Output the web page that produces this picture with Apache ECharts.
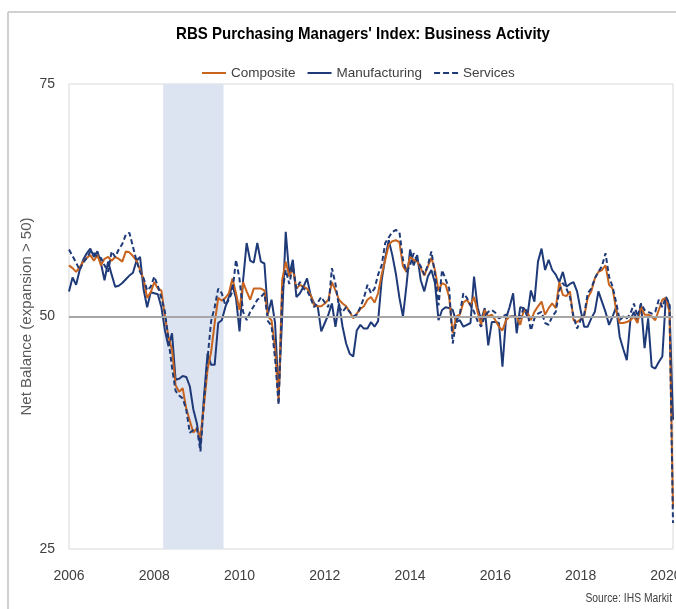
<!DOCTYPE html>
<html><head><meta charset="utf-8">
<script src="https://cdn.jsdelivr.net/npm/echarts@6/dist/echarts.min.js"></script>
<style>html,body{margin:0;padding:0;background:#fff}#c{width:676px;height:609px}</style>
</head><body><div id="c"></div>
<script>
// ---- data (monthly, Jan 2006 .. Mar 2020) ----
const startYear = 2006;
const xTickYears = [2006, 2008, 2010, 2012, 2014, 2016, 2018, 2020];
const yTicks = [25, 50, 75];
const recessionStart = '2008-04';
const recessionEnd = '2009-08';
const seriesNames = ['Composite', 'Manufacturing', 'Services'];

const composite = [
  55.5, 55.2, 54.8, 55.3, 55.9, 56.3, 56.6, 56.0, 56.6, 55.5, 56.2, 56.4,
  56.0, 56.4, 56.2, 55.9, 57.0, 56.9, 56.5, 56.0, 55.0, 54.0, 52.0, 52.6,
  53.7, 53.0, 52.8, 50.0, 47.8, 46.4, 42.6, 41.9, 42.3, 40.1, 38.8, 37.5,
  38.0, 37.0, 40.5, 44.3, 46.2, 49.3, 52.0, 51.7, 52.0, 52.5, 54.1, 52.5,
  50.7, 53.7, 52.7, 51.8, 53.0, 53.0, 53.0, 52.8, 50.0, 49.6, 46.6, 40.8,
  53.9, 55.9, 54.3, 55.2, 53.0, 53.4, 53.2, 53.0, 52.3, 51.2, 51.1, 51.1,
  51.4, 51.8, 53.7, 52.8, 51.8, 51.4, 51.1, 50.5, 49.8, 50.3, 50.8, 51.1,
  51.8, 52.1, 51.5, 52.5, 54.5, 56.1, 57.7, 58.1, 58.2, 58.0, 55.4, 54.8,
  56.4, 56.1, 55.9, 55.2, 54.4, 55.4, 56.3, 55.0, 52.8, 53.6, 53.4, 52.1,
  48.2, 50.0, 50.2, 51.5, 51.8, 51.2, 52.1, 50.5, 49.1, 50.7, 50.0, 50.2,
  49.6, 48.9, 48.5, 49.6, 50.0, 50.0, 50.0, 49.1, 50.7, 50.5, 49.6, 50.5,
  51.1, 51.6, 50.2, 50.9, 51.4, 50.9, 53.7, 52.3, 52.2, 52.7, 49.6, 49.4,
  49.7, 50.0, 52.0, 52.7, 54.1, 54.8, 55.0, 55.5, 53.4, 53.0, 50.7, 49.3,
  49.3, 49.4, 49.6, 50.0, 49.3, 51.1, 50.2, 50.2, 50.0, 49.6, 50.7, 51.8,
  52.0, 50.5, 29.5
];
const manufacturing = [
  52.7, 54.2, 53.4, 55.0, 56.1, 56.8, 57.3, 56.4, 57.0, 55.7, 53.9, 55.9,
  54.5, 53.2, 53.3, 53.6, 54.0, 54.4, 54.7, 56.0, 56.4, 52.9, 51.0, 52.6,
  52.5, 52.4, 51.0, 48.5, 46.8, 48.2, 43.2, 43.3, 43.6, 43.5, 42.5, 40.0,
  38.5, 36.0, 41.4, 46.0, 44.8, 44.8, 49.3, 49.6, 51.0, 52.1, 53.4, 52.0,
  48.4, 53.9, 57.9, 56.0, 55.8, 57.9, 55.9, 55.7, 50.3, 51.8, 49.3, 41.5,
  50.0, 59.1, 54.5, 56.1, 52.1, 52.5, 53.2, 54.1, 52.3, 51.4, 51.1, 48.4,
  49.3, 50.2, 51.4, 48.9, 51.4, 48.9, 47.1, 46.0, 45.7, 48.5, 49.1, 48.7,
  48.7, 49.4, 48.9, 49.5, 53.9, 56.3, 58.2, 56.6, 54.6, 52.0, 50.0, 53.4,
  57.2, 55.5, 56.6, 53.9, 52.7, 54.3, 55.0, 53.6, 49.6, 50.7, 51.0, 50.9,
  50.7, 49.4, 49.6, 48.9, 49.1, 49.3, 54.3, 51.0, 49.6, 50.9, 46.9, 49.4,
  49.4, 49.3, 44.6, 49.8, 51.0, 52.5, 48.2, 51.0, 50.9, 50.0, 52.8, 51.6,
  55.9, 57.3, 55.0, 56.1, 55.0, 54.5, 53.7, 54.8, 53.2, 53.5, 53.7, 52.7,
  50.7, 48.9, 48.9, 49.8, 50.5, 52.7, 51.6, 50.5, 49.1, 50.0, 51.0, 47.8,
  46.5, 45.3, 49.6, 50.5, 49.4, 51.4, 46.6, 49.8, 44.6, 44.4, 45.1, 45.7,
  52.1, 51.2, 38.9
];
const services = [
  57.2, 56.5, 55.8, 55.0, 55.8, 56.3, 57.0, 56.8, 56.4, 56.3, 55.5, 54.8,
  57.0, 56.4, 57.2, 57.8, 58.8, 59.0, 57.5, 56.0, 54.8, 54.1, 52.8, 53.2,
  54.3, 53.3, 52.0, 50.5, 47.5, 44.5, 42.0, 41.5, 41.2, 40.0, 37.5, 37.8,
  38.0, 35.5, 41.0, 45.5, 49.5, 51.0, 53.0, 52.5, 51.2, 51.8, 52.7, 56.1,
  54.0, 50.5, 49.6, 50.5, 51.1, 51.8, 52.1, 52.5, 49.5, 49.0, 45.5, 40.5,
  52.5, 55.0, 53.5, 55.4, 53.0, 53.7, 53.0, 52.8, 52.0, 51.0, 51.5, 52.1,
  51.5, 51.0, 55.2, 53.5, 51.0, 50.5, 51.0, 50.5, 50.0, 50.2, 51.0, 52.0,
  53.4, 52.5, 53.0, 54.5, 55.5, 57.9, 58.5, 59.1, 59.3, 59.1, 56.1, 54.8,
  55.5, 56.8, 56.0, 55.4, 54.5, 55.5, 57.0, 54.6, 51.2, 55.0, 54.0, 53.0,
  47.1, 49.5, 50.3, 52.5, 52.0, 51.2, 50.5, 49.5, 48.9, 50.0, 50.5, 50.7,
  50.4, 49.8, 50.0, 50.2, 50.0, 50.0, 50.0, 49.8, 51.0, 50.5, 48.5, 49.8,
  50.3, 50.5, 49.3, 49.1, 50.0, 50.5, 52.8, 53.6, 53.0, 52.1, 50.0, 48.7,
  49.6, 50.2, 52.5, 53.0, 54.1, 54.8, 55.4, 56.8, 54.3, 53.2, 51.5, 49.6,
  50.0, 49.8, 50.3, 51.4, 50.0, 51.4, 50.7, 50.5, 50.3, 50.5, 51.8, 51.0,
  52.1, 51.4, 27.8
];

// ---- helpers ----
const monthIndex = s => { const [y, m] = s.split('-').map(Number); return (y - startYear) * 12 + (m - 1); };
const pairs = arr => arr.map((v, i) => [i, v]);
const lastIdx = composite.length - 1;

const SANS = '"Liberation Sans", Arial, sans-serif';
const ORANGE = '#C8641E';
const NAVY = '#1F3A78';

const chart = echarts.init(document.getElementById('c'), null, { renderer: 'canvas' });
chart.setOption({
  backgroundColor: '#fff',
  animation: false,
  graphic: [
    { type: 'line', shape: { x1: 8, y1: 12, x2: 676, y2: 12 }, style: { stroke: '#d0d0d0', lineWidth: 2 }, silent: true },
    { type: 'line', shape: { x1: 8, y1: 12, x2: 8, y2: 609 }, style: { stroke: '#d0d0d0', lineWidth: 2 }, silent: true },
    { type: 'text', x: 363, y: 34, scaleX: 0.885, style: { text: "RBS Purchasing Managers' Index: Business Activity", fill: '#000', font: 'bold 17px ' + SANS, textAlign: 'center', textVerticalAlign: 'middle' } },
    { type: 'text', x: 672, y: 599, scaleX: 0.86, style: { text: 'Source: IHS Markit', fill: '#404040', font: '12px ' + SANS, textAlign: 'right', textVerticalAlign: 'middle' } }
  ],
  legend: {
    data: [
      { name: seriesNames[0], icon: 'rect' },
      { name: seriesNames[1], icon: 'rect' },
      { name: seriesNames[2], icon: 'path://M0,0h6v2h-6z M9,0h6v2h-6z M18,0h6v2h-6z' }
    ],
    left: 197, top: 61,
    itemWidth: 24, itemHeight: 2, itemGap: 12,
    textStyle: { color: '#404040', fontSize: 13.5, fontFamily: SANS }
  },
  grid: { left: 69, top: 84, right: 3, bottom: 60, show: true, borderColor: '#d9d9d9', borderWidth: 1, containLabel: false, outerBoundsMode: 'none' },
  xAxis: {
    type: 'value', min: 0, max: lastIdx, interval: 24,
    axisLine: { show: false }, axisTick: { show: false }, splitLine: { show: false },
    axisLabel: {
      color: '#404040', fontSize: 14, fontFamily: SANS, margin: 20, hideOverlap: false,
      formatter: v => { const y = startYear + v / 12; return (v % 24 === 0 && xTickYears.includes(y)) ? String(y) : ''; }
    }
  },
  yAxis: {
    type: 'value', min: yTicks[0], max: yTicks[yTicks.length - 1], interval: 25,
    axisLine: { show: false }, axisTick: { show: false }, splitLine: { show: false },
    axisLabel: { color: '#404040', fontSize: 14, fontFamily: SANS, margin: 14 },
    name: 'Net Balance (expansion > 50)', nameLocation: 'middle', nameGap: 35, nameRotate: 90,
    nameMoveOverlap: false,
    nameTextStyle: { color: '#595959', fontSize: 15, fontFamily: SANS }
  },
  series: [
    {
      name: 'Composite', type: 'line', data: pairs(composite), symbol: 'none', z: 3,
      lineStyle: { color: ORANGE, width: 2 }, itemStyle: { color: ORANGE },
      markArea: {
        silent: true, itemStyle: { color: '#DCE4F2' },
        data: [[{ xAxis: monthIndex(recessionStart) - 0.5 }, { xAxis: monthIndex(recessionEnd) + 0.5 }]]
      },
      markLine: {
        silent: true, symbol: 'none', label: { show: false },
        lineStyle: { color: '#a6a6a6', width: 2, type: 'solid' },
        data: [{ yAxis: yTicks[1] }]
      }
    },
    {
      name: 'Manufacturing', type: 'line', data: pairs(manufacturing), symbol: 'none', z: 2,
      lineStyle: { color: NAVY, width: 2 }, itemStyle: { color: NAVY }
    },
    {
      name: 'Services', type: 'line', data: pairs(services), symbol: 'none', z: 4,
      lineStyle: { color: NAVY, width: 2, type: [5, 3] }, itemStyle: { color: NAVY }
    }
  ]
});
</script></body></html>
